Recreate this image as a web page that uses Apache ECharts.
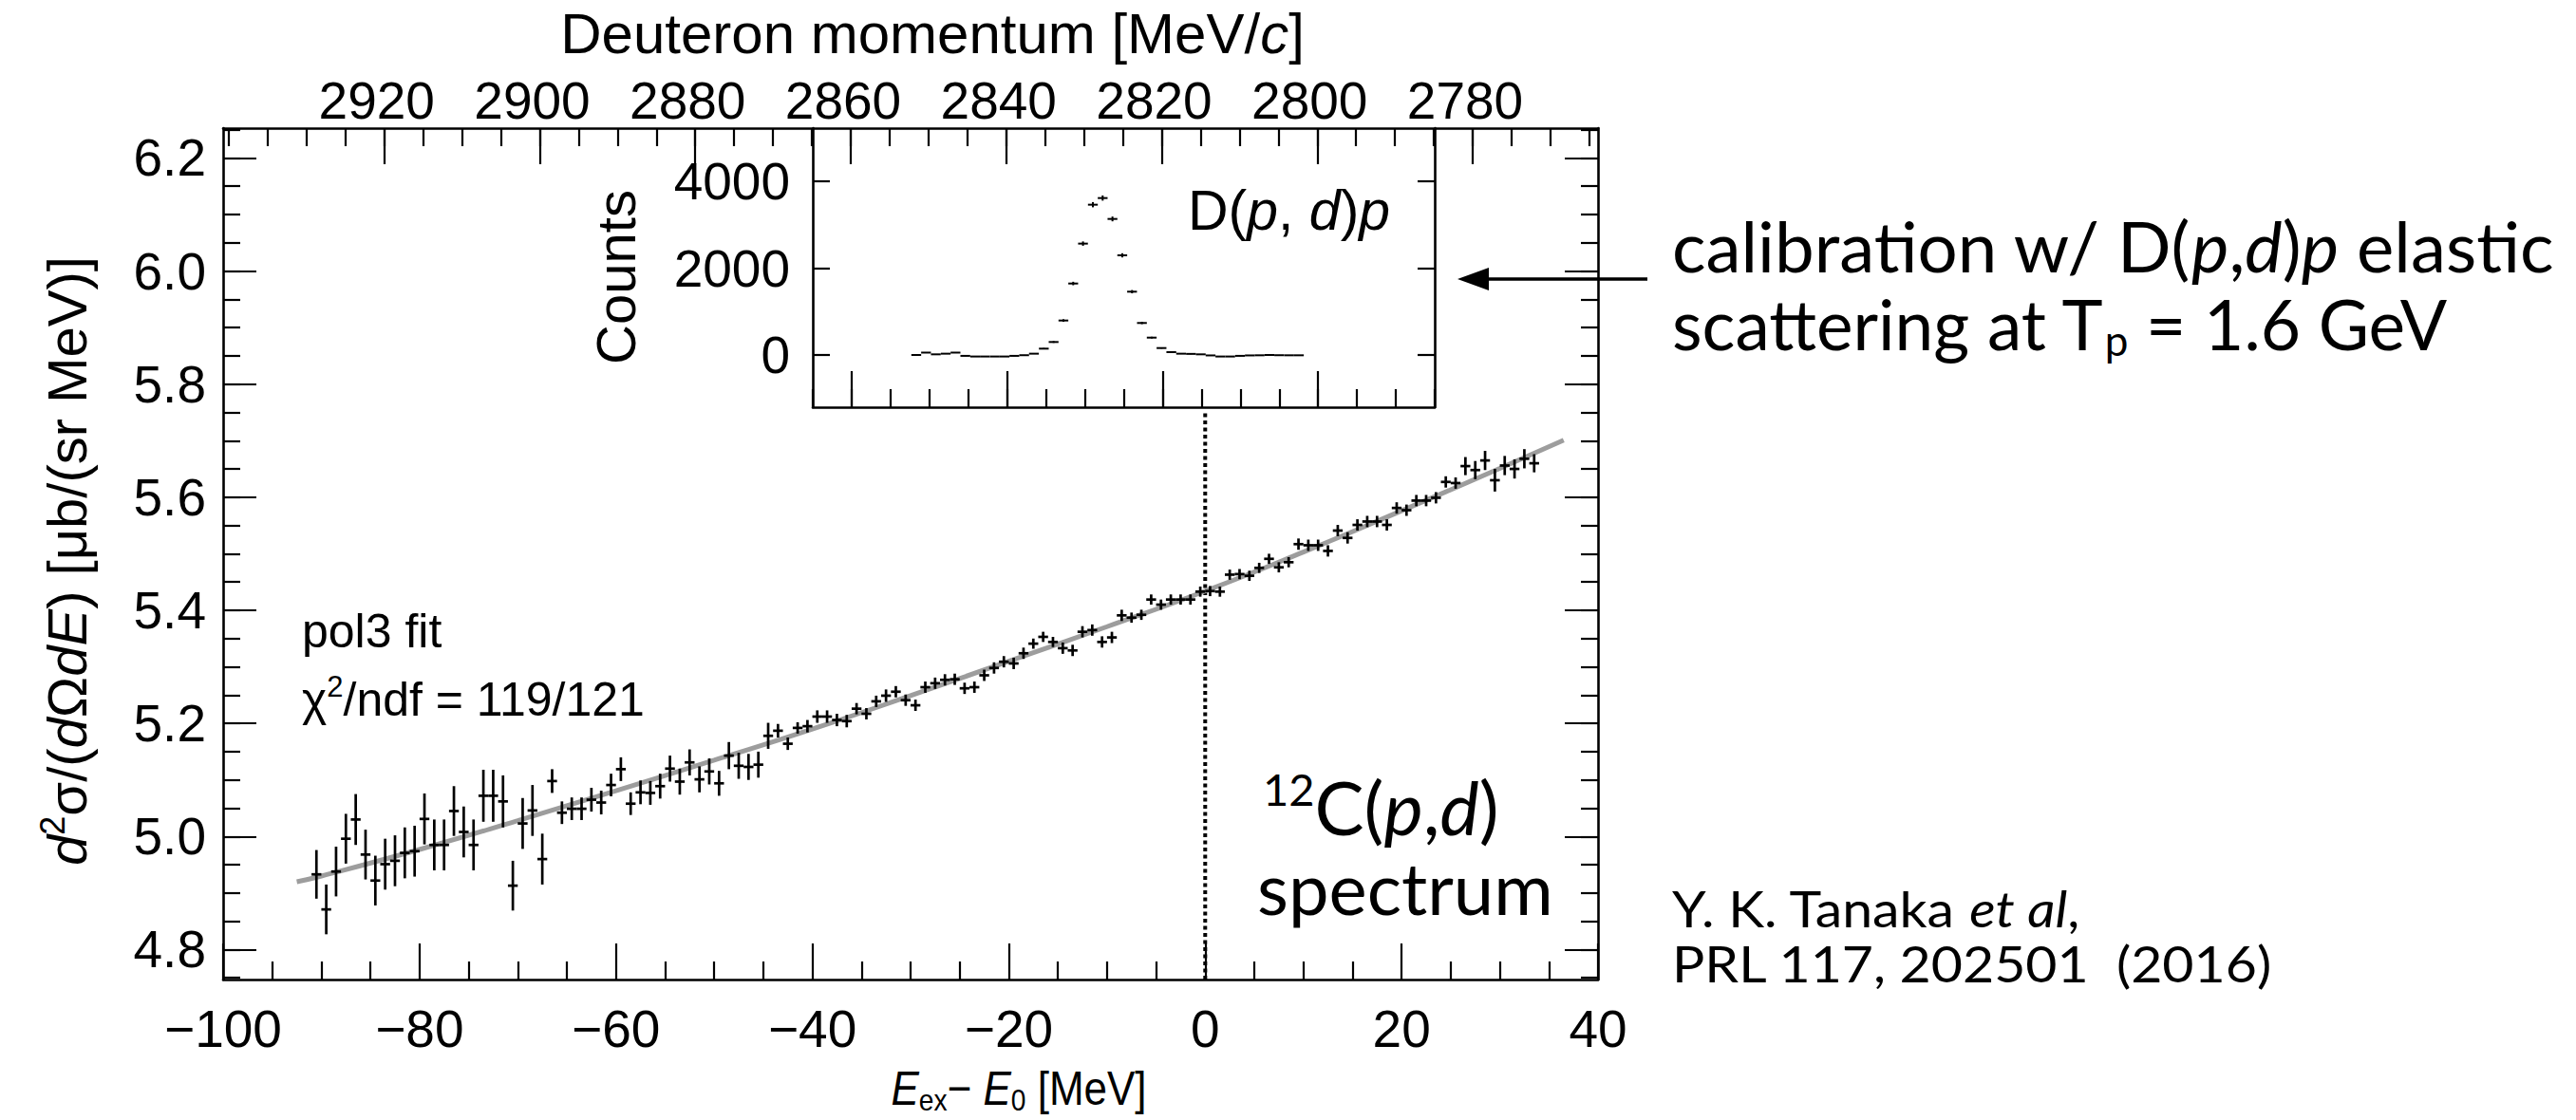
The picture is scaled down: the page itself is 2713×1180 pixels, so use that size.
<!DOCTYPE html>
<html>
<head>
<meta charset="utf-8">
<script src="https://cdn.jsdelivr.net/npm/echarts@6/dist/echarts.min.js"></script>
<style>
  html, body { margin: 0; padding: 0; background: #fff; }
  #chart { width: 2713px; height: 1180px; }
</style>
</head>
<body>
<div id="chart"></div>
<script>
// ---- 12C(p,d) spectrum, 1 MeV bins: E_ex - E_0 [MeV] and d2sigma/dOmega dE [ub/(sr MeV)]
const excitationEnergy = [
  -90.5, -89.5, -88.5, -87.5, -86.5, -85.5, -84.5, -83.5, -82.5, -81.5,
  -80.5, -79.5, -78.5, -77.5, -76.5, -75.5, -74.5, -73.5, -72.5, -71.5,
  -70.5, -69.5, -68.5, -67.5, -66.5, -65.5, -64.5, -63.5, -62.5, -61.5,
  -60.5, -59.5, -58.5, -57.5, -56.5, -55.5, -54.5, -53.5, -52.5, -51.5,
  -50.5, -49.5, -48.5, -47.5, -46.5, -45.5, -44.5, -43.5, -42.5, -41.5,
  -40.5, -39.5, -38.5, -37.5, -36.5, -35.5, -34.5, -33.5, -32.5, -31.5,
  -30.5, -29.5, -28.5, -27.5, -26.5, -25.5, -24.5, -23.5, -22.5, -21.5,
  -20.5, -19.5, -18.5, -17.5, -16.5, -15.5, -14.5, -13.5, -12.5, -11.5,
  -10.5, -9.5, -8.5, -7.5, -6.5, -5.5, -4.5, -3.5, -2.5, -1.5,
  -0.5, 0.5, 1.5, 2.5, 3.5, 4.5, 5.5, 6.5, 7.5, 8.5,
  9.5, 10.5, 11.5, 12.5, 13.5, 14.5, 15.5, 16.5, 17.5, 18.5,
  19.5, 20.5, 21.5, 22.5, 23.5, 24.5, 25.5, 26.5, 27.5, 28.5,
  29.5, 30.5, 31.5, 32.5, 33.5
];
const crossSection = [
  4.933, 4.871, 4.938, 4.996, 5.030, 4.968, 4.922, 4.951, 4.957, 4.971,
  4.974, 5.031, 4.985, 4.985, 5.045, 5.008, 4.985, 5.072, 5.072, 5.062,
  4.913, 5.023, 5.046, 4.960, 5.098, 5.042, 5.049, 5.049, 5.065, 5.060,
  5.091, 5.119, 5.058, 5.078, 5.077, 5.089, 5.120, 5.097, 5.131, 5.101,
  5.115, 5.094, 5.143, 5.125, 5.123, 5.127, 5.178, 5.187, 5.164, 5.192,
  5.195, 5.212, 5.212, 5.206, 5.204, 5.226, 5.217, 5.239, 5.249, 5.256,
  5.241, 5.232, 5.264, 5.271, 5.277, 5.278, 5.262, 5.264, 5.285, 5.298,
  5.309, 5.306, 5.324, 5.341, 5.353, 5.344, 5.333, 5.329, 5.362, 5.365,
  5.344, 5.352, 5.391, 5.387, 5.392, 5.419, 5.410, 5.419, 5.419, 5.419,
  5.433, 5.434, 5.433, 5.463, 5.464, 5.461, 5.475, 5.491, 5.476, 5.485,
  5.517, 5.515, 5.515, 5.505, 5.541, 5.528, 5.551, 5.557, 5.557, 5.551,
  5.581, 5.577, 5.594, 5.594, 5.599, 5.627, 5.625, 5.655, 5.648, 5.665,
  5.630, 5.656, 5.650, 5.668, 5.660
];
const crossSectionErr = [
  0.043, 0.044, 0.044, 0.044, 0.045, 0.044, 0.044, 0.045, 0.045, 0.045,
  0.045, 0.045, 0.045, 0.045, 0.044, 0.045, 0.045, 0.046, 0.046, 0.046,
  0.044, 0.045, 0.045, 0.045, 0.021, 0.020, 0.020, 0.020, 0.021, 0.021,
  0.020, 0.021, 0.020, 0.021, 0.021, 0.022, 0.023, 0.023, 0.023, 0.023,
  0.023, 0.022, 0.024, 0.023, 0.023, 0.023, 0.023, 0.012, 0.011, 0.010,
  0.011, 0.011, 0.011, 0.011, 0.011, 0.010, 0.010, 0.010, 0.011, 0.010,
  0.010, 0.010, 0.010, 0.010, 0.010, 0.010, 0.010, 0.010, 0.010, 0.010,
  0.010, 0.010, 0.010, 0.009, 0.009, 0.009, 0.010, 0.010, 0.010, 0.010,
  0.010, 0.010, 0.010, 0.009, 0.009, 0.009, 0.009, 0.009, 0.009, 0.009,
  0.009, 0.009, 0.009, 0.009, 0.009, 0.009, 0.009, 0.009, 0.009, 0.009,
  0.010, 0.010, 0.010, 0.010, 0.010, 0.010, 0.010, 0.010, 0.010, 0.010,
  0.010, 0.010, 0.010, 0.010, 0.010, 0.010, 0.010, 0.016, 0.016, 0.017,
  0.020, 0.017, 0.017, 0.017, 0.016
];

// ---- pol3 fit curve, sampled along E_ex - E_0
const fitEnergy = [-92.5, -90, -80, -70, -60, -50, -40, -30, -20, -10, 0, 10, 20, 30, 36.5];
const fitValue  = [4.920, 4.930, 4.977, 5.028, 5.081, 5.135, 5.190, 5.249, 5.310, 5.371, 5.434, 5.503, 5.576, 5.651, 5.701];

// ---- D(p,d)p calibration peak: deuteron momentum [MeV/c] and counts
const deuteronMomentum = [
  2851.69, 2850.43, 2849.17, 2847.90, 2846.64, 2845.38, 2844.12, 2842.86, 2841.59, 2840.33,
  2839.07, 2837.81, 2836.55, 2835.28, 2834.02, 2832.76, 2831.50, 2830.24, 2828.97, 2827.71,
  2826.45, 2825.19, 2823.93, 2822.66, 2821.40, 2820.14, 2818.88, 2817.62, 2816.35, 2815.09,
  2813.83, 2812.57, 2811.31, 2810.04, 2808.78, 2807.52, 2806.26, 2805.00, 2803.73, 2802.47
];
const calibCounts = [
  0, 55, 15, 30, 55, -20, -35, -35, -35, -35,
  -20, -5, 30, 146, 299, 794, 1646, 2565, 3461, 3614,
  3133, 2295, 1458, 737, 400, 160, 66, 30, 25, 15,
  -10, -35, -35, -20, -10, -7, 0, -5, -7, -7
];
const calibErr = [
  6, 6, 6, 6, 6, 6, 6, 6, 6, 6,
  6, 6, 8, 15, 20, 30, 40, 50, 60, 60,
  55, 48, 38, 27, 20, 13, 9, 6, 6, 6,
  6, 6, 6, 6, 6, 6, 6, 6, 6, 6
];
const calibBinHalfWidth = 0.631;

// ---- tick labels
const momentumTicks = [2920, 2900, 2880, 2860, 2840, 2820, 2800, 2780];
const insetMomentumTicks = [2860, 2840, 2820, 2800];
const sigmaTicks = [4.8, 5.0, 5.2, 5.4, 5.6, 5.8, 6.0, 6.2];
const countTicks = [0, 2000, 4000];

// ---- axis ranges
const eRange = [-100, 40];
const momentumRange = [2763.88, 2940.73];
const sigmaRange = [4.747, 6.2527];
const insetMomentumRange = [2785, 2865];
const countRange = [-1202, 5224];

function stepTicks(from, to, step) {
  const out = [];
  for (let v = from; v <= to + 1e-9; v += step) out.push(Math.round(v * 1000) / 1000);
  return out;
}
const momentumMinor = stepTicks(2765, 2940, 5);
const sigmaMinor = stepTicks(4.75, 6.25, 0.05);
const insetMomentumMinor = stepTicks(2785, 2865, 5);

const plotFont = '"Liberation Sans", Arial, Helvetica, sans-serif';
const noteFont = 'Lato, "Open Sans", sans-serif';
const black = '#000';
const frameW = 2.6;
const tickW = 2.2;
const tickFont = 55;

const chart = echarts.init(document.getElementById('chart'), null, { renderer: 'svg' });

function minus(v) {
  return v < 0 ? '\u2212' + Math.abs(v) : String(v);
}
function plain(v) {
  return String(v);
}

function tickAxis(extra) {
  return Object.assign({
    type: 'value',
    splitLine: { show: false },
    axisLine: { show: false, onZero: false },
    axisLabel: { show: false }
  }, extra);
}

function crossRenderer(halfWidth, lineWidth) {
  return function (params, api) {
    const x = api.value(0), y = api.value(1), e = api.value(2);
    const l = api.coord([x - halfWidth, y]);
    const r = api.coord([x + halfWidth, y]);
    const t = api.coord([x, y + e]);
    const b = api.coord([x, y - e]);
    const style = { stroke: black, lineWidth: lineWidth, fill: null };
    return {
      type: 'group',
      children: [
        { type: 'line', shape: { x1: l[0], y1: l[1], x2: r[0], y2: r[1] }, style: style },
        { type: 'line', shape: { x1: t[0], y1: t[1], x2: b[0], y2: b[1] }, style: style }
      ]
    };
  };
}

const mainData = excitationEnergy.map((x, i) => [x, crossSection[i], crossSectionErr[i]]);
const fitData = fitEnergy.map((x, i) => [x, fitValue[i]]);
const calibData = deuteronMomentum.map((p, i) => [p, calibCounts[i], calibErr[i]]);

const labelStyle = { color: black, fontFamily: plotFont, fontSize: tickFont };

const option = {
  animation: false,
  backgroundColor: '#fff',
  grid: [
    { left: 235, top: 135, width: 1448, height: 897, show: false },
    { left: 856, top: 135, width: 655, height: 294, show: false }
  ],
  xAxis: [
    // 0: main bottom, E_ex - E_0
    {
      type: 'value', gridIndex: 0, position: 'bottom',
      min: eRange[0], max: eRange[1], interval: 20,
      splitLine: { show: false },
      axisLine: { show: true, onZero: false, lineStyle: { color: black, width: frameW } },
      axisTick: { show: true, inside: true, length: 38, lineStyle: { color: black, width: tickW } },
      minorTick: { show: true, splitNumber: 4, length: 19, lineStyle: { color: black, width: tickW } },
      axisLabel: Object.assign({ margin: 24, formatter: minus }, labelStyle)
    },
    // 1: main top, deuteron momentum (major)
    tickAxis({
      gridIndex: 0, position: 'top', inverse: true,
      min: momentumRange[0], max: momentumRange[1],
      axisLine: { show: true, onZero: false, lineStyle: { color: black, width: frameW } },
      axisTick: { show: true, inside: true, length: 38, customValues: momentumTicks, lineStyle: { color: black, width: tickW } },
      axisLabel: Object.assign({ show: true, margin: 2, padding: [0, 16, 0, 0], customValues: momentumTicks, formatter: plain }, labelStyle)
    }),
    // 2: main top, deuteron momentum (minor)
    tickAxis({
      gridIndex: 0, position: 'top', inverse: true,
      min: momentumRange[0], max: momentumRange[1],
      axisTick: { show: true, inside: true, length: 19, customValues: momentumMinor, lineStyle: { color: black, width: tickW } }
    }),
    // 3: inset bottom (major)
    tickAxis({
      gridIndex: 1, position: 'bottom', inverse: true,
      min: insetMomentumRange[0], max: insetMomentumRange[1],
      axisLine: { show: true, onZero: false, lineStyle: { color: black, width: frameW } },
      axisTick: { show: true, inside: true, length: 38, customValues: insetMomentumTicks, lineStyle: { color: black, width: tickW } }
    }),
    // 4: inset bottom (minor)
    tickAxis({
      gridIndex: 1, position: 'bottom', inverse: true,
      min: insetMomentumRange[0], max: insetMomentumRange[1],
      axisTick: { show: true, inside: true, length: 19, customValues: insetMomentumMinor, lineStyle: { color: black, width: tickW } }
    })
  ],
  yAxis: [
    // 0: main left (major + labels)
    tickAxis({
      gridIndex: 0, position: 'left',
      min: sigmaRange[0], max: sigmaRange[1],
      axisLine: { show: true, onZero: false, lineStyle: { color: black, width: frameW } },
      axisTick: { show: true, inside: true, length: 35, customValues: sigmaTicks, lineStyle: { color: black, width: tickW } },
      axisLabel: Object.assign({ show: true, margin: 18, customValues: sigmaTicks, formatter: v => v.toFixed(1) }, labelStyle)
    }),
    // 1: main left (minor)
    tickAxis({
      gridIndex: 0, position: 'left',
      min: sigmaRange[0], max: sigmaRange[1],
      axisTick: { show: true, inside: true, length: 18, customValues: sigmaMinor, lineStyle: { color: black, width: tickW } }
    }),
    // 2: main right (major)
    tickAxis({
      gridIndex: 0, position: 'right',
      min: sigmaRange[0], max: sigmaRange[1],
      axisLine: { show: true, onZero: false, lineStyle: { color: black, width: frameW } },
      axisTick: { show: true, inside: true, length: 35, customValues: sigmaTicks, lineStyle: { color: black, width: tickW } }
    }),
    // 3: main right (minor)
    tickAxis({
      gridIndex: 0, position: 'right',
      min: sigmaRange[0], max: sigmaRange[1],
      axisTick: { show: true, inside: true, length: 18, customValues: sigmaMinor, lineStyle: { color: black, width: tickW } }
    }),
    // 4: inset left, counts
    tickAxis({
      gridIndex: 1, position: 'left',
      min: countRange[0], max: countRange[1],
      axisLine: { show: true, onZero: false, lineStyle: { color: black, width: frameW } },
      axisTick: { show: true, inside: true, length: 18, customValues: countTicks, lineStyle: { color: black, width: tickW } },
      axisLabel: Object.assign({ show: true, margin: 24, customValues: countTicks, formatter: plain }, labelStyle)
    }),
    // 5: inset right
    tickAxis({
      gridIndex: 1, position: 'right',
      min: countRange[0], max: countRange[1],
      axisLine: { show: true, onZero: false, lineStyle: { color: black, width: frameW } },
      axisTick: { show: true, inside: true, length: 18, customValues: countTicks, lineStyle: { color: black, width: tickW } }
    })
  ],
  series: [
    {
      name: 'pol3 fit', type: 'line', xAxisIndex: 0, yAxisIndex: 0,
      data: fitData, smooth: true, showSymbol: false, symbol: 'none',
      lineStyle: { color: '#9d9d9d', width: 5 }, z: 2
    },
    {
      name: 'E0', type: 'line', xAxisIndex: 0, yAxisIndex: 0,
      data: [[0, sigmaRange[0]], [0, 5.752]], showSymbol: false, symbol: 'none',
      lineStyle: { color: black, width: 4, type: [4, 3.5], cap: 'butt' }, z: 1
    },
    {
      name: '12C(p,d)', type: 'custom', xAxisIndex: 0, yAxisIndex: 0,
      data: mainData, encode: { x: 0, y: 1 },
      renderItem: crossRenderer(0.5, 2.7), z: 3
    },
    {
      name: 'D(p,d)p', type: 'custom', xAxisIndex: 3, yAxisIndex: 4,
      data: calibData, encode: { x: 0, y: 1 },
      renderItem: crossRenderer(calibBinHalfWidth, 2), z: 3
    }
  ],
  graphic: {
    elements: [
      // top axis title
      {
        type: 'text', x: 982, y: 35,
        style: {
          text: 'Deuteron momentum [MeV/{i|c}]',
          fontFamily: plotFont, fontSize: 60, fill: black, align: 'center', verticalAlign: 'middle',
          rich: { i: { fontFamily: plotFont, fontSize: 60, fontStyle: 'italic' } }
        }
      },
      // bottom axis title
      {
        type: 'text', x: 1073, y: 1146, scaleX: 0.88,
        style: {
          text: '{i|E}{sub|ex}{n|\u2212 }{i|E}{sub|0}{n| [MeV]}',
          fontFamily: plotFont, fontSize: 50, fill: black, align: 'center', verticalAlign: 'middle',
          rich: {
            n: { fontFamily: plotFont, fontSize: 50, lineHeight: 58, verticalAlign: 'middle' },
            i: { fontFamily: plotFont, fontSize: 50, lineHeight: 58, verticalAlign: 'middle', fontStyle: 'italic' },
            sub: { fontFamily: plotFont, fontSize: 32, lineHeight: 33, verticalAlign: 'bottom' }
          }
        }
      },
      // left axis title
      {
        type: 'text', x: 70, y: 591, rotation: Math.PI / 2,
        style: {
          text: '{i|d}{sup|2}{n|\u03c3/(}{i|d}{n|\u03a9}{i|dE}{n|) [\u03bcb/(sr MeV)]}',
          fontFamily: plotFont, fontSize: 58, fill: black, align: 'center', verticalAlign: 'middle',
          rich: {
            n: { fontFamily: plotFont, fontSize: 58, lineHeight: 66, verticalAlign: 'middle' },
            i: { fontFamily: plotFont, fontSize: 58, lineHeight: 66, verticalAlign: 'middle', fontStyle: 'italic' },
            sup: { fontFamily: plotFont, fontSize: 36, lineHeight: 38, verticalAlign: 'top' }
          }
        }
      },
      // fit annotation
      {
        type: 'text', x: 318, y: 665,
        style: { text: 'pol3 fit', fontFamily: plotFont, fontSize: 50, fill: black, align: 'left', verticalAlign: 'middle' }
      },
      {
        type: 'text', x: 318, y: 737,
        style: {
          text: '{n|\u03c7}{sup|2}{n|/ndf = 119/121}',
          fontFamily: plotFont, fontSize: 50, fill: black, align: 'left', verticalAlign: 'middle',
          rich: {
            n: { fontFamily: plotFont, fontSize: 50, lineHeight: 58, verticalAlign: 'middle' },
            sup: { fontFamily: plotFont, fontSize: 31, lineHeight: 33, verticalAlign: 'top' }
          }
        }
      },
      // inset y title
      {
        type: 'text', x: 648, y: 292, rotation: Math.PI / 2,
        style: { text: 'Counts', fontFamily: plotFont, fontSize: 58, fill: black, align: 'center', verticalAlign: 'middle' }
      },
      // inset label
      {
        type: 'text', x: 1251, y: 222,
        style: {
          text: 'D({i|p}, {i|d}){i|p}',
          fontFamily: plotFont, fontSize: 59, fill: black, align: 'left', verticalAlign: 'middle',
          rich: { i: { fontFamily: plotFont, fontSize: 59, fontStyle: 'italic' } }
        }
      },
      // reaction label
      {
        type: 'text', x: 1330, y: 850,
        style: {
          text: '{sup|12}{n|C(}{i|p}{n|,}{i|d}{n|)}',
          fontFamily: noteFont, fontSize: 78, fill: black, align: 'left', verticalAlign: 'middle',
          rich: {
            n: { fontFamily: noteFont, fontSize: 78, lineHeight: 86, verticalAlign: 'middle' },
            i: { fontFamily: noteFont, fontSize: 78, lineHeight: 86, verticalAlign: 'middle', fontStyle: 'italic' },
            sup: { fontFamily: noteFont, fontSize: 47, lineHeight: 52, verticalAlign: 'top' }
          }
        }
      },
      {
        type: 'text', x: 1324, y: 934,
        style: { text: 'spectrum', fontFamily: noteFont, fontSize: 76, fill: black, align: 'left', verticalAlign: 'middle' }
      },
      // calibration note with arrow
      {
        type: 'text', x: 1761, y: 259, scaleX: 1.02,
        style: {
          text: 'calibration w/ D({i|p},{i|d}){i|p} elastic',
          fontFamily: noteFont, fontSize: 73, fill: black, align: 'left', verticalAlign: 'middle',
          rich: { i: { fontFamily: noteFont, fontSize: 73, fontStyle: 'italic' } }
        }
      },
      {
        type: 'text', x: 1761, y: 341,
        style: {
          text: '{n|scattering at T}{sub|p}{n| = 1.6 GeV}',
          fontFamily: noteFont, fontSize: 73, fill: black, align: 'left', verticalAlign: 'middle',
          rich: {
            n: { fontFamily: noteFont, fontSize: 73, lineHeight: 78, verticalAlign: 'middle' },
            sub: { fontFamily: noteFont, fontSize: 44, lineHeight: 46, verticalAlign: 'bottom' }
          }
        }
      },
      {
        type: 'line', shape: { x1: 1735, y1: 294, x2: 1560, y2: 294 },
        style: { stroke: black, lineWidth: 3.5 }
      },
      {
        type: 'polygon', shape: { points: [[1535, 294], [1568, 282], [1568, 306]] },
        style: { fill: black }
      },
      // reference
      {
        type: 'text', x: 1761, y: 957, scaleX: 1.1,
        style: {
          text: '{n|Y. K. Tanaka }{i|et al},',
          fontFamily: noteFont, fontSize: 52, fill: black, align: 'left', verticalAlign: 'middle',
          rich: {
            n: { fontFamily: noteFont, fontSize: 52 },
            i: { fontFamily: noteFont, fontSize: 52, fontStyle: 'italic' }
          }
        }
      },
      {
        type: 'text', x: 1761, y: 1015, scaleX: 1.1,
        style: { text: 'PRL 117, 202501  (2016)', fontFamily: noteFont, fontSize: 52, fill: black, align: 'left', verticalAlign: 'middle' }
      }
    ]
  }
};

chart.setOption(option);
</script>
</body>
</html>
